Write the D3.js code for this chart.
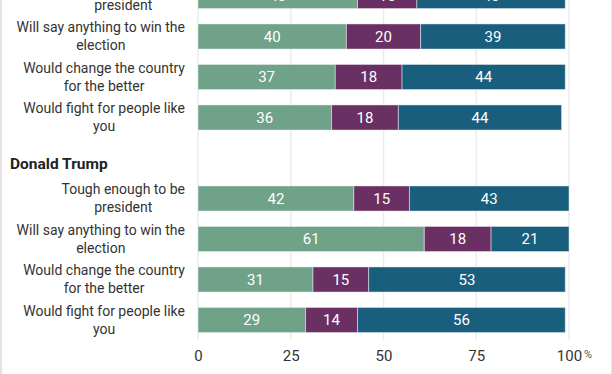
<!DOCTYPE html>
<html>
<head>
<meta charset="utf-8">
<script src="https://cdn.jsdelivr.net/npm/d3@7"></script>
<style>
  body { margin: 0; background: #fff; }
  svg { display: block; font-family: Roboto, "Noto Sans", sans-serif; }
</style>
</head>
<body>
<div id="chart"></div>
<script>
// rows as they appear, the header slot is kept empty
const rows = [
  "b0", "b1", "b2", "b3", "trumpHeader", "t0", "t1", "t2", "t3"
];
const rowLabels = {
  b0: ["Tough enough to be", "president"],
  b1: ["Will say anything to win the", "election"],
  b2: ["Would change the country", "for the better"],
  b3: ["Would fight for people like", "you"],
  t0: ["Tough enough to be", "president"],
  t1: ["Will say anything to win the", "election"],
  t2: ["Would change the country", "for the better"],
  t3: ["Would fight for people like", "you"]
};
const seriesNames = ["Describes well", "Neither", "Does not describe"];
const bidenValues = [[43, 16, 40], [40, 20, 39], [37, 18, 44], [36, 18, 44]];
const trumpValues = [[42, 15, 43], [61, 18, 21], [31, 15, 53], [29, 14, 56]];
const headers = { trumpHeader: "Donald Trump" };
const xTicks = [0, 25, 50, 75, 100];
const colors = ["#6fa289", "#6a2f63", "#1a5e7e"];

const W = 612, H = 374;
const svg = d3.select("#chart").append("svg")
  .attr("width", W).attr("height", H);

// frame of the cropped container
svg.append("line").attr("x1", 1).attr("x2", 1).attr("y1", 0).attr("y2", H)
  .attr("stroke", "#e2e2e2").attr("stroke-width", 2);
svg.append("line").attr("x1", 611.5).attr("x2", 611.5).attr("y1", 0).attr("y2", H)
  .attr("stroke", "#e6e6e6").attr("stroke-width", 1);

const x = d3.scaleLinear().domain([0, 100]).range([198, 569]);
const y = d3.scaleBand().domain(rows).range([-24.25, 340.25])
  .paddingInner(0.38).paddingOuter(0.19);

// gridlines
svg.selectAll(".grid").data(xTicks).enter()
  .append("line")
  .attr("class", "grid")
  .attr("x1", d => x(d)).attr("x2", d => x(d))
  .attr("y1", 0).attr("y2", 340)
  .attr("stroke", "#ebebeb").attr("stroke-width", 1.5);

const data = [];
bidenValues.forEach((v, i) => data.push({ key: "b" + i, values: v }));
trumpValues.forEach((v, i) => data.push({ key: "t" + i, values: v }));

const stack = d3.stack().keys([0, 1, 2]).value((d, k) => d.values[k]);
const layers = stack(data);

const g = svg.selectAll(".layer").data(layers).enter()
  .append("g").attr("class", "layer")
  .attr("fill", (d, i) => colors[i]);

g.selectAll("rect").data(d => d).enter()
  .append("rect")
  .attr("x", d => x(d[0]))
  .attr("width", d => x(d[1]) - x(d[0]))
  .attr("y", d => y(d.data.key))
  .attr("height", y.bandwidth())
  .attr("stroke", "rgba(255,255,255,0.45)")
  .attr("stroke-width", 1);

g.selectAll("text").data(d => d).enter()
  .append("text")
  .attr("x", d => (x(d[0]) + x(d[1])) / 2)
  .attr("y", d => y(d.data.key) + y.bandwidth() / 2)
  .attr("dy", "0.36em")
  .attr("text-anchor", "middle")
  .attr("fill", "#fff")
  .style("font-size", "15px")
  .text(d => d[1] - d[0]);

// category labels: lines centred, block right-aligned
const labelG = svg.selectAll(".cat").data(Object.keys(rowLabels)).enter()
  .append("text")
  .attr("class", "cat")
  .attr("text-anchor", "middle")
  .attr("fill", "#333")
  .style("font-size", "14px");
labelG.each(function(k) {
  const c = y(k) + y.bandwidth() / 2;
  const lines = rowLabels[k];
  const t = d3.select(this);
  const spans = t.selectAll("tspan").data(lines).enter()
    .append("tspan")
    .attr("y", (d, i) => c + (i - (lines.length - 1) / 2) * 18)
    .attr("dy", "0.35em")
    .text(d => d);
  let maxW = 0;
  spans.each(function() { maxW = Math.max(maxW, this.getComputedTextLength()); });
  spans.attr("x", 185 - maxW / 2);
});

// group header
svg.selectAll(".header").data(Object.keys(headers)).enter()
  .append("text")
  .attr("class", "header")
  .attr("x", 10)
  .attr("y", k => y(k) + y.bandwidth() / 2 + 6)
  .attr("dy", "0.35em")
  .attr("fill", "#222")
  .style("font-size", "15.5px")
  .style("font-weight", "bold")
  .text(k => headers[k]);

// x axis labels
const axis = svg.append("g").attr("transform", "translate(0,350)")
  .call(d3.axisBottom(x).tickValues(xTicks).tickSize(0).tickPadding(0));
axis.select(".domain").remove();
axis.selectAll("text")
  .attr("fill", "#333")
  .attr("dy", "0.71em")
  .style("font-family", "Roboto, sans-serif")
  .style("font-size", "15px");

svg.append("text")
  .attr("x", 584).attr("y", 358)
  .attr("fill", "#555")
  .style("font-size", "11px")
  .text("%");
</script>
</body>
</html>
